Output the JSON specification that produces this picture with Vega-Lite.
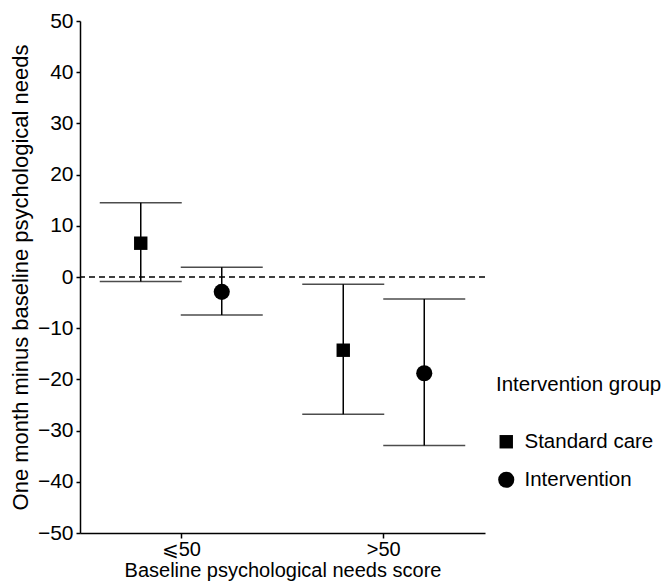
{
  "$schema": "https://vega.github.io/schema/vega-lite/v6.json",
  "width": 405,
  "height": 512,
  "autosize": "none",
  "padding": {"left": 80, "top": 21, "right": 180, "bottom": 49},
  "background": "white",
  "config": {
    "view": {"stroke": null},
    "font": "Liberation Sans",
    "axis": {
      "domainColor": "black",
      "domainWidth": 1.5,
      "tickColor": "black",
      "tickWidth": 1.5,
      "labelColor": "black",
      "titleColor": "black",
      "labelFontSize": 21,
      "titleFontSize": 21,
      "titleFontWeight": "normal",
      "grid": false
    },
    "legend": {
      "orient": "none",
      "legendX": 416,
      "legendY": 354,
      "titleFontSize": 20.5,
      "titleFontWeight": "normal",
      "titleColor": "black",
      "labelFontSize": 20.5,
      "labelColor": "black",
      "titlePadding": 36,
      "rowPadding": 16,
      "labelOffset": 8
    }
  },
  "data": {
    "values": [
      {"baseline": "⩽50", "group": "Standard care", "mean": 6.6, "lower": -0.9, "upper": 14.5},
      {"baseline": "⩽50", "group": "Intervention", "mean": -2.9, "lower": -7.4, "upper": 1.9},
      {"baseline": ">50", "group": "Standard care", "mean": -14.3, "lower": -26.8, "upper": -1.4},
      {"baseline": ">50", "group": "Intervention", "mean": -18.8, "lower": -32.9, "upper": -4.3}
    ]
  },
  "encoding": {
    "x": {
      "field": "baseline",
      "type": "nominal",
      "sort": ["⩽50", ">50"],
      "scale": {"type": "band", "paddingInner": 0, "paddingOuter": 0},
      "axis": {"title": "Baseline psychological needs score", "labelAngle": 0, "tickSize": 5, "labelPadding": 1, "labelFontSize": 20, "titlePadding": 1, "titleFontSize": 20}
    },
    "xOffset": {
      "field": "group",
      "type": "nominal",
      "sort": ["Standard care", "Intervention"],
      "scale": {"type": "band", "paddingInner": 0, "paddingOuter": 0.25}
    }
  },
  "layer": [
    {
      "data": {"values": [{"zero": 0}]},
      "mark": {"type": "rule", "strokeDash": [6, 4], "strokeWidth": 1.5, "color": "black"},
      "encoding": {
        "x": null,
        "xOffset": null,
        "y": {"field": "zero", "type": "quantitative"}
      }
    },
    {
      "mark": {"type": "rule", "strokeWidth": 1.5, "color": "black"},
      "encoding": {
        "y": {
          "field": "lower",
          "type": "quantitative",
          "scale": {"domain": [-50, 50], "nice": false},
          "axis": {"title": "One month minus baseline psychological needs", "titleFontSize": 22, "values": [-50, -40, -30, -20, -10, 0, 10, 20, 30, 40, 50], "tickSize": 4, "labelPadding": 3, "titlePadding": 5}
        },
        "y2": {"field": "upper"}
      }
    },
    {
      "mark": {"type": "tick", "size": 82, "thickness": 1.5, "color": "black"},
      "encoding": {"y": {"field": "lower", "type": "quantitative"}}
    },
    {
      "mark": {"type": "tick", "size": 82, "thickness": 1.5, "color": "black"},
      "encoding": {"y": {"field": "upper", "type": "quantitative"}}
    },
    {
      "mark": {"type": "point", "filled": true, "color": "black", "opacity": 1},
      "encoding": {
        "y": {"field": "mean", "type": "quantitative"},
        "shape": {
          "field": "group",
          "type": "nominal",
          "title": "Intervention group",
          "sort": ["Standard care", "Intervention"],
          "scale": {"domain": ["Standard care", "Intervention"], "range": ["square", "circle"]}
        },
        "size": {
          "field": "group",
          "type": "nominal",
          "title": "Intervention group",
          "sort": ["Standard care", "Intervention"],
          "scale": {"domain": ["Standard care", "Intervention"], "range": [180, 260]}
        }
      }
    }
  ]
}
